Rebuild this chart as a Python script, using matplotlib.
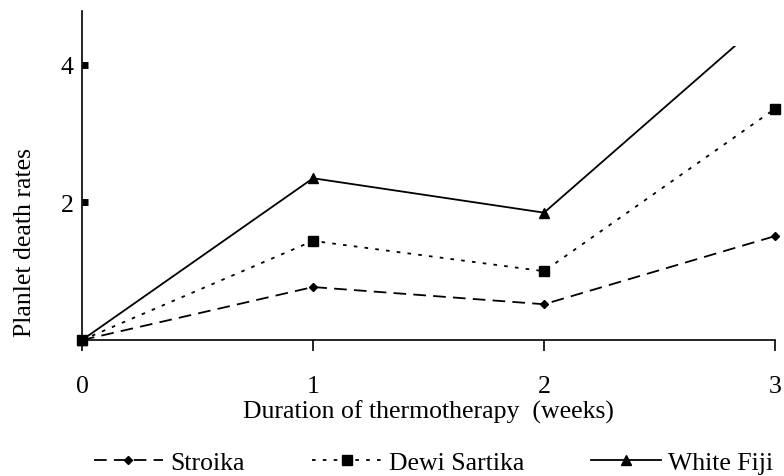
import matplotlib.pyplot as plt
from matplotlib.patches import Rectangle

plt.rcParams['font.family'] = ['Liberation Serif', 'DejaVu Serif']

weeks = [0, 1, 2, 3]
stroika = [0.0, 0.77, 0.52, 1.51]
dewi_sartika = [0.0, 1.44, 1.0, 3.36]
white_fiji = [0.0, 2.35, 1.85, 4.78]
series_names = ["Stroika", "Dewi Sartika", "White Fiji"]
y_ticks = [2, 4]

fs = 18.5

fig = plt.figure(figsize=(7.84, 4.77), dpi=100)
ax = fig.add_axes([0.1046, 0.285, 0.884, 0.69])

ax.plot(weeks, stroika, color='black', linewidth=1.3, linestyle=(0, (7, 4)),
        marker='D', markersize=4.5, clip_on=False, label=series_names[0])
ax.plot(weeks, dewi_sartika, color='black', linewidth=1.3, linestyle=(0, (2, 4)),
        marker='s', markersize=6.5, clip_on=False, label=series_names[1])
wf, = ax.plot(weeks, white_fiji, color='black', linewidth=1.3, linestyle='-',
              marker='^', markersize=6.5, label=series_names[2])
# the top segment stops short of the axis top in the original
clip = Rectangle((-0.1, -0.2), 3.2, 4.47, transform=ax.transData)
wf.set_clip_path(clip)

ax.set_xlim(0, 3)
ax.set_ylim(0, 4.78)
ax.set_xticks(weeks)
ax.set_yticks(y_ticks)
ax.tick_params(axis='x', direction='out', length=8, width=1.2, labelsize=fs, pad=17)
ax.tick_params(axis='y', direction='in', length=4.5, width=5, labelsize=fs, pad=6)

for side in ['top', 'right']:
    ax.spines[side].set_visible(False)
for side in ['left', 'bottom']:
    ax.spines[side].set_linewidth(1.2)

ax.set_xlabel("Duration of thermotherapy  (weeks)", fontsize=fs, labelpad=2)
ax.set_ylabel("Planlet death rates", fontsize=fs)
ax.yaxis.set_label_coords(-0.067, 0.3)

fig.legend(loc='lower center', bbox_to_anchor=(0.553, -0.045), ncol=3, frameon=False,
           fontsize=fs, handlelength=2.7, columnspacing=2.6, handletextpad=0.3)

fig.savefig("out.png", dpi=100)
